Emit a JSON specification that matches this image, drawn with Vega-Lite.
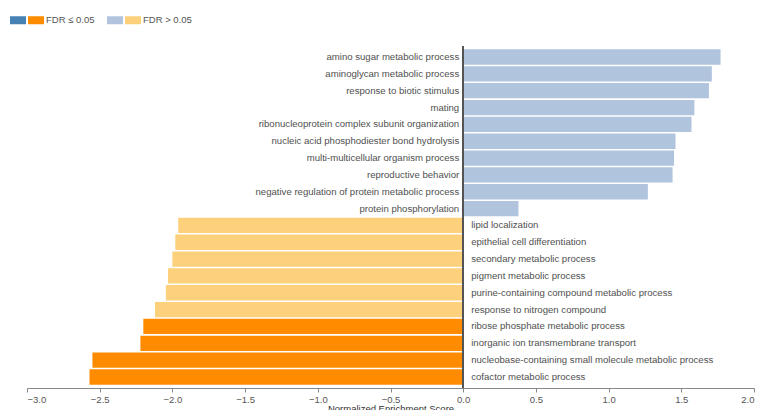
{
  "$schema": "https://vega.github.io/schema/vega-lite/v6.json",
  "width": 727,
  "height": 342,
  "autosize": {"type": "none"},
  "padding": {"left": 27, "top": 46, "right": 7, "bottom": 22},
  "background": "white",
  "config": {"view": {"stroke": null}, "font": "Liberation Sans"},
  "data": {
    "values": [
      {"term": "amino sugar metabolic process", "nes": 1.77, "group": "pos_ns"},
      {"term": "aminoglycan metabolic process", "nes": 1.71, "group": "pos_ns"},
      {"term": "response to biotic stimulus", "nes": 1.69, "group": "pos_ns"},
      {"term": "mating", "nes": 1.59, "group": "pos_ns"},
      {"term": "ribonucleoprotein complex subunit organization", "nes": 1.57, "group": "pos_ns"},
      {"term": "nucleic acid phosphodiester bond hydrolysis", "nes": 1.46, "group": "pos_ns"},
      {"term": "multi-multicellular organism process", "nes": 1.45, "group": "pos_ns"},
      {"term": "reproductive behavior", "nes": 1.44, "group": "pos_ns"},
      {"term": "negative regulation of protein metabolic process", "nes": 1.27, "group": "pos_ns"},
      {"term": "protein phosphorylation", "nes": 0.38, "group": "pos_ns"},
      {"term": "lipid localization", "nes": -1.96, "group": "neg_ns"},
      {"term": "epithelial cell differentiation", "nes": -1.98, "group": "neg_ns"},
      {"term": "secondary metabolic process", "nes": -2.0, "group": "neg_ns"},
      {"term": "pigment metabolic process", "nes": -2.03, "group": "neg_ns"},
      {"term": "purine-containing compound metabolic process", "nes": -2.045, "group": "neg_ns"},
      {"term": "response to nitrogen compound", "nes": -2.12, "group": "neg_ns"},
      {"term": "ribose phosphate metabolic process", "nes": -2.2, "group": "neg_sig"},
      {"term": "inorganic ion transmembrane transport", "nes": -2.22, "group": "neg_sig"},
      {"term": "nucleobase-containing small molecule metabolic process", "nes": -2.55, "group": "neg_sig"},
      {"term": "cofactor metabolic process", "nes": -2.57, "group": "neg_sig"}
    ]
  },
  "encoding": {
    "y": {"field": "term", "type": "nominal", "sort": null, "axis": null,
          "scale": {"paddingInner": 0.09, "paddingOuter": 0.2}}
  },
  "layer": [
    {
      "mark": {"type": "bar"},
      "encoding": {
        "x": {
          "field": "nes", "type": "quantitative",
          "scale": {"domain": [-3, 2], "nice": false, "zero": false},
          "axis": {
            "title": "Normalized Enrichment Score",
            "values": [-3, -2.5, -2, -1.5, -1, -0.5, 0, 0.5, 1, 1.5, 2],
            "format": ".1f",
            "grid": false,
            "domainColor": "#888888",
            "tickColor": "#888888",
            "tickSize": 4,
            "labelFontSize": 9.5,
            "labelColor": "#555555",
            "labelPadding": 2,
            "titleFontSize": 9.5,
            "titleFontWeight": "normal",
            "titleColor": "#333333",
            "titlePadding": 0
          }
        },
        "x2": {"datum": 0},
        "color": {
          "field": "group", "type": "nominal",
          "scale": {
            "domain": ["pos_sig", "neg_sig", "pos_ns", "neg_ns"],
            "range": ["#4682b4", "#ff8c00", "#b0c4de", "#fdd07c"]
          },
          "legend": {
            "title": null,
            "orient": "none",
            "legendX": -17,
            "legendY": -34,
            "direction": "horizontal",
            "symbolType": "M-1,-0.5H1V0.5H-1Z",
            "symbolSize": 256,
            "symbolStrokeWidth": 0,
            "symbolOpacity": 1,
            "labelOffset": 2,
            "columnPadding": 0,
            "labelFontSize": 9.5,
            "labelColor": "#555555",
            "labelExpr": "datum.value == 'neg_sig' ? 'FDR ≤ 0.05' : datum.value == 'neg_ns' ? 'FDR > 0.05' : ''",
            "encode": {
              "symbols": {
                "update": {
                  "shape": {"signal": "datum.value == 'neg_sig' ? 'M-1,-0.5H1V0.5H-1ZM1,0H8.84' : 'M-1,-0.5H1V0.5H-1Z'"}
                }
              }
            }
          }
        }
      }
    },
    {
      "mark": {"type": "rule", "color": "#555555", "strokeWidth": 1},
      "encoding": {"x": {"datum": 0}, "y": null}
    },
    {
      "transform": [{"filter": "datum.nes > 0"}],
      "mark": {"type": "text", "align": "right", "baseline": "middle", "dx": -4, "fontSize": 9.6, "color": "#505050"},
      "encoding": {"x": {"datum": 0}, "text": {"field": "term"}}
    },
    {
      "transform": [{"filter": "datum.nes < 0"}],
      "mark": {"type": "text", "align": "left", "baseline": "middle", "dx": 8, "fontSize": 9.6, "color": "#505050"},
      "encoding": {"x": {"datum": 0}, "text": {"field": "term"}}
    }
  ]
}
